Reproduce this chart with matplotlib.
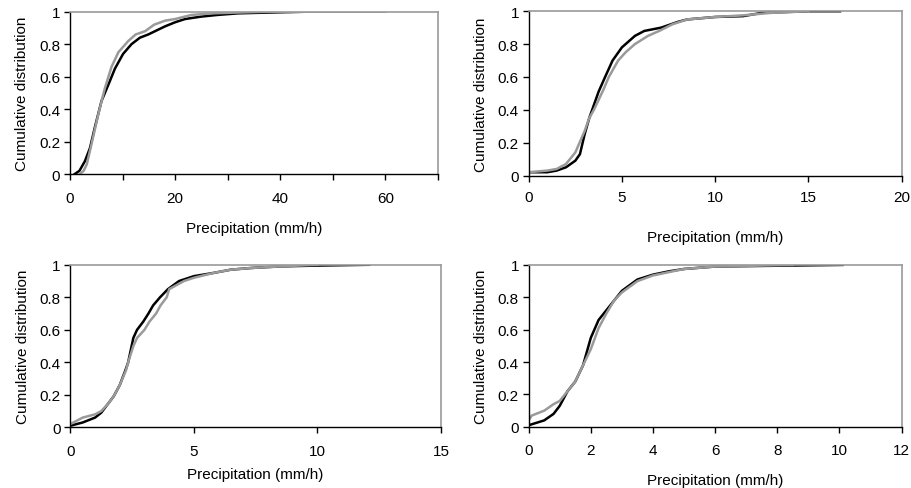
import matplotlib
matplotlib.use("Agg")
import matplotlib.pyplot as plt
import matplotlib.ticker as plticker

plt.rcParams['font.family'] = ['Liberation Sans', 'DejaVu Sans']

# Panel 1 (0-70 mm/h)
p1_black_x = [0.9, 1.8, 2.85, 3.8, 4.75, 6.0, 7.3, 8.56, 10.1, 11.7, 13.3, 14.9, 18.1,
              20.0, 21.9, 25.0, 28.0, 32.0, 38.0, 45.0, 55.0]
p1_black_y = [0.0, 0.02, 0.08, 0.16, 0.29, 0.45, 0.55, 0.65, 0.74, 0.80, 0.84, 0.86, 0.91,
              0.935, 0.955, 0.97, 0.98, 0.99, 0.995, 1.0, 1.0]
p1_gray_x = [1.9, 2.6, 3.2, 4.1, 5.4, 6.65, 7.9, 9.2, 11.1, 12.5, 14.3, 16.0, 18.1, 20.0,
             23.1, 27.0, 32.0, 38.0, 60.0]
p1_gray_y = [0.0, 0.02, 0.06, 0.185, 0.37, 0.53, 0.66, 0.75, 0.82, 0.86, 0.88, 0.92, 0.945,
             0.955, 0.98, 0.99, 0.995, 1.0, 1.0]

# Panel 2 (0-20 mm/h)
p2_black_x = [0, 1, 1.5, 2, 2.5, 2.75, 3.0, 3.25, 3.5, 3.75, 4.1, 4.5, 5.0, 5.2, 5.7,
              6.2, 7.1, 8.0, 8.5, 10, 11.5, 12.5, 15, 16.7]
p2_black_y = [0.02, 0.02, 0.03, 0.05, 0.09, 0.13, 0.25, 0.35, 0.43, 0.51, 0.6, 0.7, 0.78,
              0.8, 0.85, 0.88, 0.9, 0.935, 0.95, 0.965, 0.97, 0.99, 1.0, 1.0]
p2_gray_x = [0, 1, 1.5, 2, 2.5, 3.0, 3.25, 3.5, 4.0, 4.3, 4.8, 5.2, 5.7, 6.4, 7.0, 7.7,
             8.5, 10, 11.5, 13, 15]
p2_gray_y = [0.02, 0.03, 0.04, 0.07, 0.14, 0.27, 0.35, 0.40, 0.52, 0.6, 0.7, 0.75, 0.8,
             0.85, 0.88, 0.92, 0.95, 0.965, 0.975, 0.99, 1.0]

# Panel 3 (0-15 mm/h)
p3_black_x = [0, 0.5, 1.0, 1.25, 1.5, 1.75, 2.0, 2.25, 2.34, 2.48, 2.55, 2.7, 2.95, 3.16,
              3.35, 3.63, 3.95, 4.4, 5.0, 5.8, 6.5, 7.3, 8.5, 10, 12.1]
p3_black_y = [0.01, 0.03, 0.06, 0.09, 0.14, 0.19, 0.26, 0.36, 0.4, 0.5, 0.55, 0.6, 0.65,
              0.7, 0.75, 0.8, 0.85, 0.9, 0.93, 0.95, 0.97, 0.98, 0.99, 0.995, 1.0]
p3_gray_x = [0, 0.5, 1.0, 1.25, 1.5, 1.75, 2.0, 2.25, 2.34, 2.55, 2.7, 3.0, 3.2, 3.47,
             3.65, 3.9, 4.0, 4.6, 5.0, 5.8, 6.5, 7.3, 8.5, 10]
p3_gray_y = [0.02, 0.06, 0.08, 0.1, 0.14, 0.19, 0.26, 0.35, 0.4, 0.5, 0.55, 0.6, 0.65, 0.7,
             0.75, 0.8, 0.85, 0.9, 0.92, 0.95, 0.97, 0.98, 0.99, 1.0]

# Panel 4 (0-12 mm/h)
p4_black_x = [0, 0.5, 0.8, 1.0, 1.25, 1.5, 1.75, 2.0, 2.25, 2.5, 2.75, 3.0, 3.5, 4.0,
              4.5, 5.0, 6.0, 8.0, 10.1]
p4_black_y = [0.01, 0.04, 0.08, 0.13, 0.22, 0.28, 0.38, 0.55, 0.66, 0.72, 0.78, 0.84,
              0.91, 0.94, 0.96, 0.975, 0.99, 0.995, 1.0]
p4_gray_x = [0, 0.1, 0.5, 0.8, 1.0, 1.25, 1.5, 1.75, 2.0, 2.25, 2.5, 2.75, 3.0, 3.5,
             4.0, 4.5, 5.0, 6.0, 8.5]
p4_gray_y = [0.04, 0.07, 0.10, 0.14, 0.16, 0.22, 0.28, 0.38, 0.48, 0.61, 0.70, 0.78,
             0.83, 0.90, 0.935, 0.955, 0.975, 0.99, 1.0]

X_LIMITS = [70, 20, 15, 12]
X_MAJOR = [10, 5, 5, 2]
X_LABEL_EVERY = [2, 1, 1, 1]
X_TICK_PAD = [8, 6.5, 8, 7.5]
X_LABEL_PAD = [12, 18.5, 6.3, 11.3]

# figure-fraction rectangles [left, bottom, width, height]
AXES_RECTS = [
    [0.0768, 0.642, 0.404, 0.332],
    [0.5803, 0.639, 0.4094, 0.336],
    [0.0772, 0.124, 0.4069, 0.3325],
    [0.5803, 0.125, 0.4094, 0.3312],
]

PANELS = [
    (p1_black_x, p1_black_y, p1_gray_x, p1_gray_y),
    (p2_black_x, p2_black_y, p2_gray_x, p2_gray_y),
    (p3_black_x, p3_black_y, p3_gray_x, p3_gray_y),
    (p4_black_x, p4_black_y, p4_gray_x, p4_gray_y),
]

GRAY = '#9a9a9a'

fig = plt.figure(figsize=(9.11, 4.89), dpi=100)

for i, (bx, by, gx, gy) in enumerate(PANELS):
    axes = fig.add_axes(AXES_RECTS[i])
    axes.plot(bx, by, color='black', linewidth=1.8)
    axes.plot(gx, gy, color=GRAY, linewidth=1.8)

    axes.set_xlim(0, X_LIMITS[i])
    axes.set_ylim(0, 1)
    axes.xaxis.set_major_locator(plticker.MultipleLocator(X_MAJOR[i]))
    axes.yaxis.set_major_locator(plticker.MultipleLocator(0.2))

    every = X_LABEL_EVERY[i]
    step = X_MAJOR[i]

    def xfmt(val, _pos, every=every, step=step):
        idx = int(round(val / step))
        return '%g' % val if idx % every == 0 else ''

    axes.xaxis.set_major_formatter(plticker.FuncFormatter(xfmt))
    axes.yaxis.set_major_formatter(plticker.FuncFormatter(lambda v, _p: '%g' % round(v, 1)))

    for side in ('left', 'bottom'):
        axes.spines[side].set_color('black')
        axes.spines[side].set_linewidth(1.0)
    for side in ('top', 'right'):
        axes.spines[side].set_color(GRAY)
        axes.spines[side].set_linewidth(1.2)

    axes.tick_params(direction='out', length=4, width=1, colors='black',
                     labelsize=11, pad=3)
    axes.tick_params(axis='x', pad=X_TICK_PAD[i])
    axes.set_xlabel('Precipitation (mm/h)', fontsize=11, labelpad=X_LABEL_PAD[i])
    axes.set_ylabel('Cumulative distribution', fontsize=11, labelpad=7)

fig.savefig('out.png', dpi=100)
